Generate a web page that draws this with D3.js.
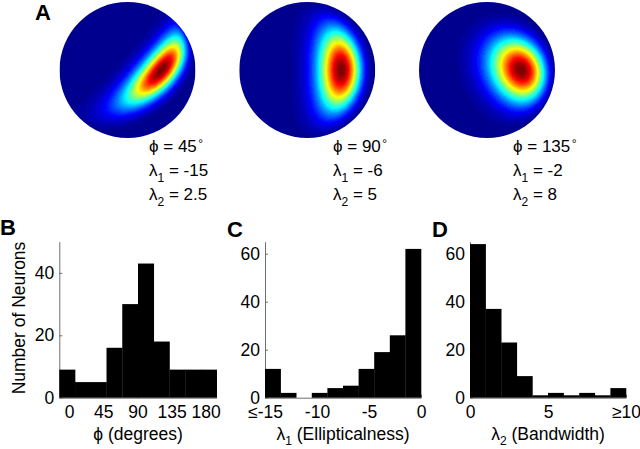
<!DOCTYPE html>
<html><head><meta charset="utf-8">
<script src="https://cdn.jsdelivr.net/npm/d3@7"></script>
<style>
body{margin:0;background:#fff}
svg{display:block}
text{font-family:Arial,"Liberation Sans",Helvetica,sans-serif;fill:#000}
</style>
</head><body>
<svg id="fig" width="640" height="449"></svg>
<script>
// ---------- data ----------
const discPhi = [45, 90, 135];          // degrees
const discLambda1 = [-15, -6, -2];      // ellipticalness
const discLambda2 = [2.5, 5, 8];        // bandwidth
const peakTiltDeg = 30;                 // peak position off the view axis
const majorCoupling = 0.07;             // model constant (λ1 weight on major axis)

const phiCounts = [9, 5, 5, 16, 30, 43, 18, 9, 9, 9];
const phiDomain = [-13, 194.5];
const phiTicks = [0, 45, 90, 135, 180];
const phiTickLabels = ["0", "45", "90", "135", "180"];
const phiYMax = 50;
const phiYTicks = [0, 20, 40];

const l1Counts = [12, 2, 0, 2, 4, 5, 12, 19, 26, 62];
const l1Domain = [-15, 0];
const l1Ticks = [-15, -10, -5, 0];
const l1TickLabels = ["\u2264-15", "-10", "-5", "0"];

const l2Counts = [64, 37, 23, 9, 1, 2, 1, 2, 1, 4];
const l2Domain = [0, 10];
const l2Ticks = [0, 5, 10];
const l2TickLabels = ["0", "5", "\u226510"];
const lYMax = 65;
const lYTicks = [0, 20, 40, 60];

// ---------- helpers ----------
const svg = d3.select("#fig");
const FONT = 17.5;
const DISC_FONT = 17;

function jet(t) {
  const c = v => Math.max(0, Math.min(1, v));
  return [c(1.5 - Math.abs(4 * t - 3)), c(1.5 - Math.abs(4 * t - 2)), c(1.5 - Math.abs(4 * t - 1))];
}
// 64-level MATLAB-like jet
const colorScale = d3.scaleQuantize().domain([0, 1]).range(d3.range(64).map(k => jet((k + 1) / 64)));

// ---------- panel A: discs ----------
const R = 68;
const discX = d3.scaleLinear().domain([0, 2]).range([127.5, 487]);
const discY = 70;
const textX = [149, 333, 513];
const defs = svg.append("defs");

const pix = d3.scaleLinear().domain([0, 2 * R]).range([-1, 1]);

function subText(t, base, sub, rest, drop) {
  t.append("tspan").text(base);
  t.append("tspan").attr("dy", drop).style("font-size", "12px").text(sub);
  t.append("tspan").attr("dy", -drop).text(rest);
}

discPhi.forEach((phiDeg, k) => {
  const l1 = discLambda1[k], l2 = discLambda2[k];
  const al = peakTiltDeg * Math.PI / 180, ph = phiDeg * Math.PI / 180;
  const mu = [Math.sin(al), 0, Math.cos(al)];
  const ex = [Math.cos(al), 0, -Math.sin(al)], ey = [0, 1, 0];
  const a = [0, 1, 2].map(d => -Math.sin(ph) * ex[d] + Math.cos(ph) * ey[d]);
  const m = [0, 1, 2].map(d => Math.cos(ph) * ex[d] + Math.sin(ph) * ey[d]);
  const N = 2 * R;
  const cv = document.createElement("canvas");
  cv.width = N; cv.height = N;
  const ctx = cv.getContext("2d");
  const img = ctx.createImageData(N, N);
  for (let j = 0; j < N; j++) {
    for (let i = 0; i < N; i++) {
      const x = pix(i + 0.5), y = -pix(j + 0.5);
      const z = Math.sqrt(Math.max(0, 1 - x * x - y * y));
      const mp = mu[0] * x + mu[1] * y + mu[2] * z;
      const ap = a[0] * x + a[1] * y + a[2] * z;
      const mm = m[0] * x + m[1] * y + m[2] * z;
      const f = Math.exp(l2 * (mp - 1) + l1 * ap * ap + majorCoupling * l1 * mm * mm);
      const col = colorScale(Math.min(0.9999, f));
      const o = 4 * (j * N + i);
      img.data[o] = Math.round(col[0] * 255);
      img.data[o + 1] = Math.round(col[1] * 255);
      img.data[o + 2] = Math.round(col[2] * 255);
      img.data[o + 3] = 255;
    }
  }
  ctx.putImageData(img, 0, 0);
  const cx = discX(k);
  defs.append("clipPath").attr("id", "clip" + k)
    .append("circle").attr("cx", cx).attr("cy", discY).attr("r", R);
  svg.append("image")
    .attr("x", cx - R).attr("y", discY - R).attr("width", N).attr("height", N)
    .attr("href", cv.toDataURL())
    .attr("clip-path", `url(#clip${k})`);

  const tx = textX[k];
  const t1 = svg.append("text").attr("x", tx).attr("y", 152).style("font-size", DISC_FONT + "px");
  t1.append("tspan").text("\u03d5 = " + phiDeg);
  t1.append("tspan").attr("dx", 1.5).style("font-size", "12px").attr("dy", -4).text("\u00b0");
  const t2 = svg.append("text").attr("x", tx).attr("y", 175.5).style("font-size", DISC_FONT + "px");
  subText(t2, "\u03bb", "1", " = " + l1, 6);
  const t3 = svg.append("text").attr("x", tx).attr("y", 199.5).style("font-size", DISC_FONT + "px");
  subText(t3, "\u03bb", "2", " = " + l2, 6);
});

// ---------- histograms ----------
function histogram(o) {
  const g = svg.append("g");
  const xs = d3.scaleLinear().domain(o.domain).range([o.left, o.right]);
  const ys = d3.scaleLinear().domain([0, o.ymax]).range([397.7, 241.7]);
  const xAxis = d3.axisBottom(xs).tickValues(o.ticks)
    .tickFormat((d, i) => o.tickLabels[i]).tickSizeInner(-3).tickSizeOuter(0).tickPadding(8);
  const yAxis = d3.axisLeft(ys).tickValues(o.yTicks)
    .tickSizeInner(-3).tickSizeOuter(0).tickPadding(5);
  const gx = g.append("g").attr("transform", `translate(0,${ys(0)})`).call(xAxis);
  const gy = g.append("g").attr("transform", `translate(${xs.range()[0]},0)`).call(yAxis);
  [gx, gy].forEach(ax => {
    ax.attr("font-family", null).attr("font-size", null);
    ax.select(".domain").attr("stroke", "#6e6e6e");
    ax.selectAll(".tick line").attr("stroke", "#6e6e6e");
    ax.selectAll("text").style("font-size", FONT + "px").attr("fill", "#000");
  });
  const w = (o.domain[1] - o.domain[0]) / o.counts.length;
  g.selectAll("rect.bar").data(o.counts).join("rect").attr("class", "bar")
    .attr("x", (d, i) => xs(o.domain[0] + i * w))
    .attr("width", (d, i) => xs(o.domain[0] + (i + 1) * w) - xs(o.domain[0] + i * w) + 0.3)
    .attr("y", d => ys(d))
    .attr("height", d => ys(0) - ys(d))
    .attr("fill", "#000");
  const mid = (o.left + o.right) / 2;
  const lab = g.append("text").attr("x", mid).attr("y", 440).attr("text-anchor", "middle")
    .style("font-size", FONT + "px");
  o.label(lab);
  if (o.ylabel) {
    g.append("text").attr("transform", `translate(24.5,318) rotate(-90)`)
      .attr("text-anchor", "middle").style("font-size", FONT + "px").text(o.ylabel);
  }
}

histogram({
  left: 59.3, right: 216.7, domain: phiDomain, counts: phiCounts,
  ticks: phiTicks, tickLabels: phiTickLabels, ymax: phiYMax, yTicks: phiYTicks,
  ylabel: "Number of Neurons",
  label: t => t.text("\u03d5 (degrees)")
});
histogram({
  left: 265, right: 421, domain: l1Domain, counts: l1Counts,
  ticks: l1Ticks, tickLabels: l1TickLabels, ymax: lYMax, yTicks: lYTicks,
  label: t => subText(t, "\u03bb", "1", " (Ellipticalness)", 4.5)
});
histogram({
  left: 470, right: 626, domain: l2Domain, counts: l2Counts,
  ticks: l2Ticks, tickLabels: l2TickLabels, ymax: lYMax, yTicks: lYTicks,
  label: t => subText(t, "\u03bb", "2", " (Bandwidth)", 4.5)
});

// ---------- panel letters ----------
const letters = [["A", 35, 20], ["B", 0, 235], ["C", 227, 236.5], ["D", 432, 236.5]];
svg.selectAll("text.letter").data(letters).join("text").attr("class", "letter")
  .attr("x", d => d[1]).attr("y", d => d[2])
  .style("font-size", "22px").style("font-weight", "bold").text(d => d[0]);
</script>
</body></html>
